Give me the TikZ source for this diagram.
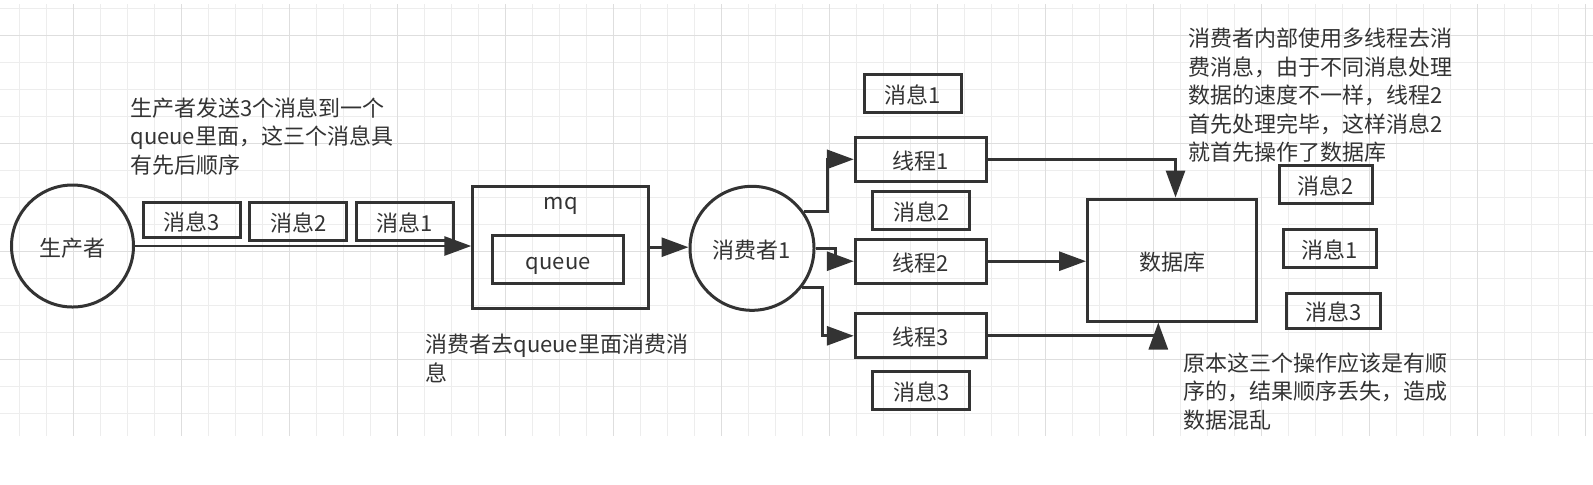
\documentclass[tikz,border=0pt]{standalone}
\usepackage{fontspec}
\setmainfont{Noto Sans CJK SC}
\usetikzlibrary{arrows.meta, calc, positioning}
\definecolor{inkgray}{HTML}{333333}
\definecolor{gridminor}{HTML}{EDEDED}
\definecolor{gridmajor}{HTML}{DEDEDE}

\begin{document}
\begin{tikzpicture}[x=0.5pt, y=-0.5pt, >={Triangle[length=13.5pt, width=9.5pt]},
    every node/.style={font=\fontsize{11pt}{14.25pt}\selectfont, text=inkgray, inner sep=0pt},
    boxed/.style={draw=inkgray, line width=1.5pt, text height=10.5pt, text depth=0.5pt},
    msgbox/.style={boxed, minimum width=48.5pt, minimum height=19pt},
    thread/.style={boxed, minimum width=65.5pt, minimum height=22pt},
    actor/.style={boxed, circle, minimum size=61pt},
    note/.style={anchor=north west, align=left},
    flow/.style={->, draw=inkgray, line width=1.45pt}]
    \useasboundingbox (0,0) rectangle (1593,484);
    \foreach \gx in {0,...,58} {
        \draw[gridminor, line width=0.5pt] ({19.3+27*\gx},4) -- ({19.3+27*\gx},436);
    };
    \foreach \gy in {0,...,15} {
        \draw[gridminor, line width=0.5pt] (0,{8.3+27*\gy}) -- (1593,{8.3+27*\gy});
    };
    \foreach \gx in {0,...,14} {
        \draw[gridmajor, line width=0.5pt] ({73.3+108*\gx},4) -- ({73.3+108*\gx},436);
    };
    \foreach \gy in {0,...,3} {
        \draw[gridmajor, line width=0.5pt] (0,{35.3+108*\gy}) -- (1593,{35.3+108*\gy});
    };

    \node[actor] (producer) at (72.5,246) {生产者};
    \node[msgbox, minimum height=17.5pt] (send3) at (191.7,220) {消息3};
    \node[msgbox] (send2) at (298.3,221.7) {消息2};
    \node[msgbox] (send1) at (405,221.7) {消息1};
    \node[note] (intro) at (130,97) {生产者发送3个消息到一个\\queue里面，这三个消息具\\有先后顺序};

    \node[boxed, minimum width=88pt, minimum height=61pt] (mq) at (560.8,247.2) {};
    \node[below=6pt of mq.north] (mq-label) {mq};
    \node[thread, minimum width=65.5pt, minimum height=24pt] (queue) at (558.3,259) {queue};
    \node[note] (pull) at (425,334) {消费者去queue里面消费消\\息};

    \node[actor, minimum size=62pt] (consumer) at (752,248.3) {消费者1};

    \node[msgbox] (pick1) at (913,93) {消息1};
    \node[thread] (t1) at (920.8,159.3) {线程1};
    \node[msgbox] (pick2) at (921.3,210.3) {消息2};
    \node[thread] (t2) at (920.8,261.2) {线程2};
    \node[thread] (t3) at (920.8,335.8) {线程3};
    \node[msgbox] (pick3) at (921.2,390.3) {消息3};

    \node[boxed, minimum width=84.5pt, minimum height=61pt] (db) at (1172,260) {数据库};
    \node[msgbox, minimum width=46.5pt] (done2) at (1325.8,184.2) {消息2};
    \node[msgbox, minimum width=46.5pt] (done1) at (1330,248.7) {消息1};
    \node[msgbox, minimum width=47pt, minimum height=17.5pt] (done3) at (1333.7,310.7) {消息3};
    \node[note] (worker) at (1188.3,28) {消费者内部使用多线程去消\\费消息，由于不同消息处理\\数据的速度不一样，线程2\\首先处理完毕，这样消息2\\就首先操作了数据库};
    \node[note] (result) at (1183.3,352) {原本这三个操作应该是有顺\\序的，结果顺序丢失，造成\\数据混乱};

    \draw[flow] (producer.east) -- (producer.east -| mq.west);
    \draw[flow] (mq.east) -- (mq.east -| consumer.west);
    \draw[flow] (consumer.35) -- ++(23.3,0) |- (t1.west);
    \draw[flow] (consumer.east) -- ++(20,0) |- (t2.west);
    \draw[flow] (consumer.-38) -- ++(20,0) |- (t3.west);
    \draw[flow] (t1.east) -| ([xshift=1.75pt]db.north);
    \draw[flow] (t2.east) -- (t2.east -| db.west);
    \draw[flow] (t3.east) -| ([xshift=-6.85pt]db.south);
\end{tikzpicture}
\end{document}
